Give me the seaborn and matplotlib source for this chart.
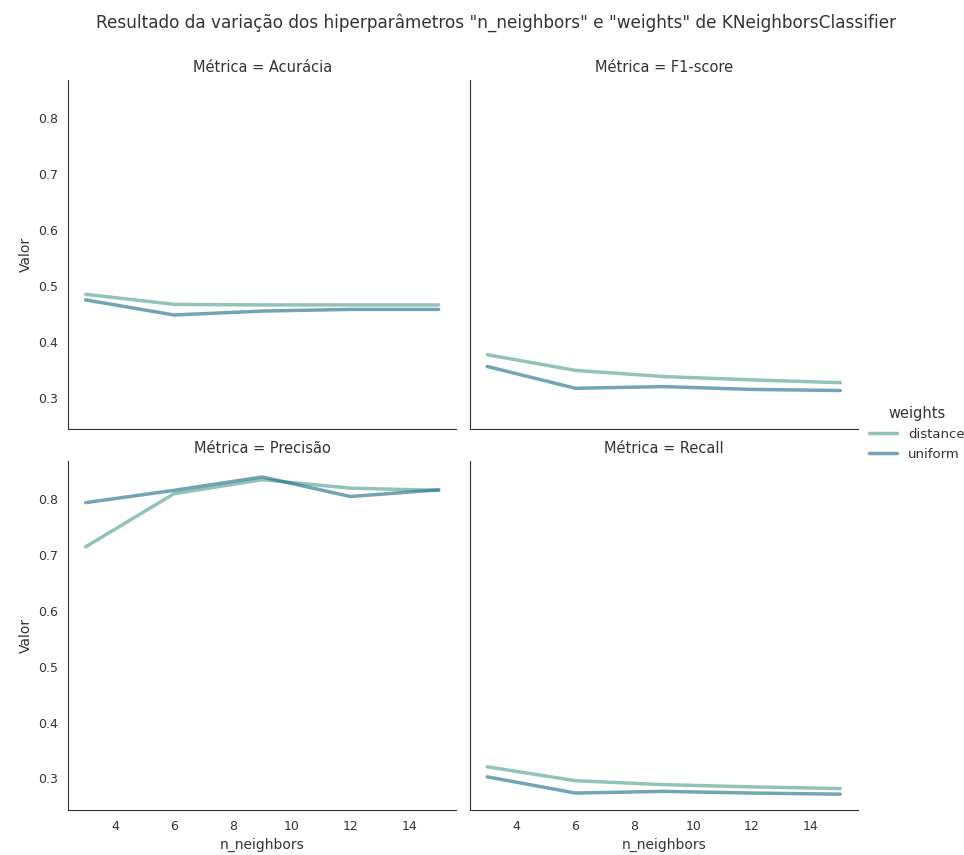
import numpy as np
import pandas as pd
import seaborn as sns
import matplotlib
matplotlib.use("Agg")
import matplotlib.pyplot as plt

n_neighbors = [3, 6, 9, 12, 15]
metricas = ["Acurácia", "F1-score", "Precisão", "Recall"]

acc_distance = [0.485, 0.467, 0.466, 0.466, 0.466]
acc_uniform = [0.475, 0.448, 0.455, 0.458, 0.458]
f1_distance = [0.377, 0.349, 0.338, 0.332, 0.327]
f1_uniform = [0.356, 0.317, 0.320, 0.315, 0.313]
prec_distance = [0.714, 0.809, 0.834, 0.819, 0.815]
prec_uniform = [0.793, 0.815, 0.839, 0.804, 0.816]
rec_distance = [0.321, 0.296, 0.289, 0.285, 0.282]
rec_uniform = [0.303, 0.274, 0.277, 0.274, 0.272]

series = {
    ("Acurácia", "distance"): acc_distance,
    ("Acurácia", "uniform"): acc_uniform,
    ("F1-score", "distance"): f1_distance,
    ("F1-score", "uniform"): f1_uniform,
    ("Precisão", "distance"): prec_distance,
    ("Precisão", "uniform"): prec_uniform,
    ("Recall", "distance"): rec_distance,
    ("Recall", "uniform"): rec_uniform,
}

rows = []
for (m, w), vals in series.items():
    for k, v in zip(n_neighbors, vals):
        rows.append({"Métrica": m, "weights": w, "n_neighbors": k, "Valor": v})
df = pd.DataFrame(rows)

sns.set_style("white")
plt.rcParams["font.family"] = ["DejaVu Sans"]
plt.rcParams["axes.edgecolor"] = "#333333"
plt.rcParams["text.color"] = "#333333"
plt.rcParams["axes.labelcolor"] = "#333333"
plt.rcParams["xtick.color"] = "#333333"
plt.rcParams["ytick.color"] = "#333333"

g = sns.relplot(data=df, x="n_neighbors", y="Valor", hue="weights", col="Métrica",
                col_wrap=2, kind="line", palette="crest", alpha=0.62, linewidth=2.5,
                col_order=metricas, hue_order=["distance", "uniform"],
                height=3.5, aspect=1.1)

fig = g.figure
fig.set_size_inches(9.64, 8.55)
fig.set_dpi(100)

for ax in g.axes.flat:
    ax.tick_params(labelsize=9)
    ax.xaxis.label.set_size(10)
    ax.yaxis.label.set_size(10)
    ax.title.set_size(10.5)
    ax.set_xticks([4, 6, 8, 10, 12, 14])

fig.subplots_adjust(left=0.0705, right=0.890, bottom=0.0526, top=0.906,
                    wspace=0.034, hspace=0.091)

leg = g._legend
leg.set_bbox_to_anchor((0.951, 0.493))
leg.set_loc("center")
leg.get_title().set_fontsize(10.5)
for t in leg.get_texts():
    t.set_fontsize(9.5)

fig.suptitle('Resultado da variação dos hiperparâmetros "n_neighbors" e "weights" de KNeighborsClassifier',
             fontsize=12.2, x=0.515, y=0.985, color="#333333")

fig.savefig("out.png", dpi=100)
